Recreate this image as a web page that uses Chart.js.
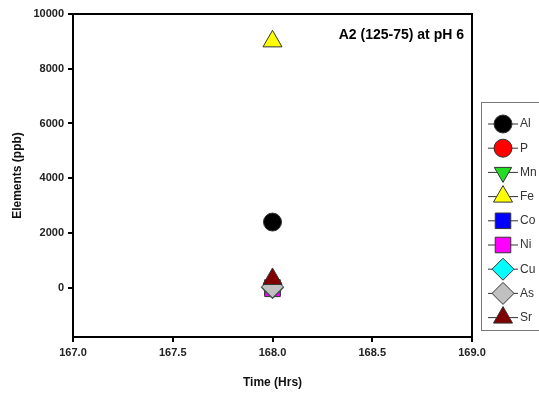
<!DOCTYPE html>
<html>
<head>
<meta charset="utf-8">
<script src="https://cdn.jsdelivr.net/npm/chart.js@4.4.0/dist/chart.umd.min.js"></script>
<style>
  html, body { margin: 0; padding: 0; background: #fff; }
  #wrap { width: 539px; height: 394px; }
</style>
</head>
<body>
<div id="wrap"><canvas id="chart" width="539" height="394"></canvas></div>
<script>
// data
const elements = ['Al', 'P', 'Mn', 'Fe', 'Co', 'Ni', 'Cu', 'As', 'Sr'];
const times = [168.0];
const values = [2400, 40, 20, 9000, 10, -40, 0, 30, 320];
const yTicks = [0, 2000, 4000, 6000, 8000, 10000];
const xTicks = [167.0, 167.5, 168.0, 168.5, 169.0];
const chartTitle = 'A2 (125-75) at pH 6';

// marker styles per element
const fills = ['#000000', '#ff0000', '#22dd22', '#ffff00', '#0000ff', '#ff00ff', '#00ffff', '#c0c0c0', '#800000'];
const shapes = ['circle', 'circle', 'triangle', 'triangle', 'rect', 'rect', 'rectRot', 'rectRot', 'triangle'];
const rotations = [0, 0, 180, 0, 0, 0, 0, 0, 0];
const sizes = [9, 9, 10, 11, 11, 11, 11, 11, 11];

// later elements sit on top, like the original plot
const datasets = elements.map((el, i) => ({
    label: el,
    data: times.map(t => ({ x: t, y: values[i] })),
    order: elements.length - i,
    pointStyle: shapes[i],
    rotation: rotations[i],
    pointRadius: sizes[i],
    backgroundColor: fills[i],
    borderColor: '#333333',
    pointBorderWidth: 1,
    showLine: false
}));

// box around the plot + title inside it
const framePlugin = {
    id: 'frame',
    afterDraw(chart) {
        const { ctx, chartArea: a } = chart;
        ctx.save();
        ctx.strokeStyle = '#000';
        ctx.lineWidth = 2;
        ctx.beginPath();
        ctx.moveTo(a.left, a.top);
        ctx.lineTo(a.right, a.top);
        ctx.lineTo(a.right, a.bottom);
        ctx.stroke();
        ctx.fillStyle = '#000';
        ctx.font = 'bold 14px "Liberation Sans", Arial, sans-serif';
        ctx.textAlign = 'right';
        ctx.textBaseline = 'middle';
        ctx.fillText(chartTitle, a.right - 8, a.top + 21);
        ctx.restore();
    }
};

// legend box on the right, lines through markers
const legendPlugin = {
    id: 'sideLegend',
    afterDraw(chart) {
        const ctx = chart.ctx;
        const x0 = 481, y0 = 102, rowH = 24.2;
        ctx.save();
        ctx.strokeStyle = '#777';
        ctx.lineWidth = 1;
        ctx.strokeRect(x0 + 0.5, y0 + 0.5, 80, 228);
        elements.forEach((el, i) => {
            const cy = y0 + 22 + i * rowH;
            const cx = 503;
            ctx.strokeStyle = '#333';
            ctx.lineWidth = 1;
            ctx.beginPath();
            ctx.moveTo(488, cy);
            ctx.lineTo(518, cy);
            ctx.stroke();
            ctx.fillStyle = fills[i];
            ctx.strokeStyle = '#333';
            Chart.helpers.drawPoint(ctx, {
                pointStyle: shapes[i],
                rotation: rotations[i],
                radius: sizes[i],
                borderWidth: 1
            }, cx, cy);
            ctx.fillStyle = '#333';
            ctx.font = '12px "Liberation Sans", Arial, sans-serif';
            ctx.textAlign = 'left';
            ctx.textBaseline = 'middle';
            ctx.fillText(el, 520, cy);
        });
        ctx.restore();
    }
};

const tickFont = { family: '"Liberation Sans", Arial, sans-serif', size: 11, weight: 'bold' };
const titleFont = { family: '"Liberation Sans", Arial, sans-serif', size: 12, weight: 'bold' };

new Chart(document.getElementById('chart'), {
    type: 'scatter',
    data: { datasets },
    options: {
        responsive: false,
        animation: false,
        layout: { padding: { left: 6, right: 67, top: 14, bottom: 0 } },
        plugins: {
            legend: { display: false },
            tooltip: { enabled: false }
        },
        scales: {
            x: {
                type: 'linear',
                min: 167,
                max: 169,
                afterBuildTicks: s => { s.ticks = xTicks.map(v => ({ value: v })); },
                afterFit: s => { s.height = 57; },
                ticks: {
                    color: '#222',
                    font: tickFont,
                    padding: 4,
                    callback: v => v.toFixed(1)
                },
                grid: { drawOnChartArea: false, drawTicks: true, tickLength: 5, color: '#000', lineWidth: 2 },
                border: { display: true, color: '#000', width: 2 },
                title: { display: true, text: 'Time (Hrs)', color: '#111', font: titleFont, padding: { top: 8 } }
            },
            y: {
                type: 'linear',
                min: -1800,
                max: 10000,
                afterBuildTicks: s => { s.ticks = yTicks.map(v => ({ value: v })); },
                afterFit: s => { s.width = 67; },
                ticks: { color: '#222', font: tickFont, padding: 4, callback: v => String(v) },
                grid: { drawOnChartArea: false, drawTicks: true, tickLength: 5, color: '#000', lineWidth: 2 },
                border: { display: true, color: '#000', width: 2 },
                title: { display: true, text: 'Elements (ppb)', color: '#111', font: titleFont, padding: { bottom: 4 } }
            }
        }
    },
    plugins: [framePlugin, legendPlugin]
});
</script>
</body>
</html>
